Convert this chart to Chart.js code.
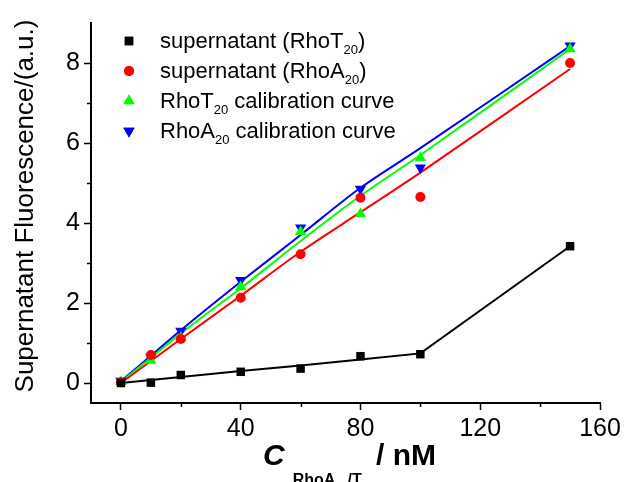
<!DOCTYPE html>
<html>
<head>
<meta charset="utf-8">
<script src="https://cdn.jsdelivr.net/npm/chart.js@4/dist/chart.umd.min.js"></script>
<style>
  body { margin: 0; background: #fff; }
  canvas { display: block; }
</style>
</head>
<body>
<canvas id="chart" width="629" height="482"></canvas>
<script>
// concentrations (nM)
const conc = [0, 10, 20, 40, 60, 80, 100, 150];

// measured points
const supT = [0.0, 0.01, 0.2, 0.28, 0.36, 0.67, 0.72, 3.42];
const supA = [0.02, 0.7, 1.1, 2.13, 3.22, 4.63, 4.65, 8.0];
const calT = [0.03, 0.57, 1.13, 2.4, 3.78, 4.23, 5.63, 8.35];
const calA = [0.05, 0.65, 1.3, 2.57, 3.88, 4.85, 5.38, 8.43];

// fitted curves
const supTFit = [0.0, 0.074, 0.148, 0.3, 0.44, 0.59, 0.74, 3.42];
const supAFit = [0.0, 0.55, 1.1, 2.18, 3.28, 4.27, 5.26, 7.85];
const calTFit = [0.03, 0.63, 1.24, 2.37, 3.55, 4.68, 5.7, 8.35];
const calAFit = [0.05, 0.68, 1.32, 2.53, 3.7, 4.88, 5.87, 8.42];

// axes
const xTicks = [0, 40, 80, 120, 160];
const xMinor = [20, 60, 100, 140];
const yTicks = [0, 2, 4, 6, 8];
const yMinor = [1, 3, 5, 7];

const FONT = 'Arial, "Liberation Sans", sans-serif';

const pts = ys => conc.map((x, i) => ({ x: x, y: ys[i] }));

function markers(label, ys, color, style, radius, rotation) {
    return {
        label: label,
        data: pts(ys),
        showLine: false,
        pointStyle: style,
        pointRadius: radius,
        pointHoverRadius: radius,
        pointRotation: rotation || 0,
        pointBackgroundColor: color,
        pointBorderColor: color,
        pointBorderWidth: 0,
        isMarker: true
    };
}

function curve(ys, color, tension) {
    return {
        data: pts(ys),
        showLine: true,
        borderColor: color,
        borderWidth: 2,
        pointRadius: 0,
        fill: false,
        tension: tension
    };
}

const datasets = [
    markers('supernatant (RhoT|20|)', supT, '#000000', 'rect', 6),
    markers('supernatant (RhoA|20|)', supA, '#ff0000', 'circle', 5),
    markers('RhoT|20| calibration curve', calT, '#00ff00', 'triangle', 6.5),
    markers('RhoA|20| calibration curve', calA, '#0000ff', 'triangle', 6.5, 180),
    curve(supTFit, '#000000', 0),
    curve(supAFit, '#ff0000', 0.3),
    curve(calTFit, '#00ff00', 0.3),
    curve(calAFit, '#0000ff', 0.3)
];

// draws a row of text pieces [text, font, dy, extra gap]
function richText(ctx, pieces, x, y, align) {
    let total = 0;
    pieces.forEach(p => {
        ctx.font = p[1];
        total += ctx.measureText(p[0]).width + (p[3] || 0);
    });
    let cx = align === 'center' ? x - total / 2 : x;
    ctx.textAlign = 'left';
    ctx.textBaseline = 'alphabetic';
    pieces.forEach(p => {
        ctx.font = p[1];
        ctx.fillText(p[0], cx, y + p[2]);
        cx += ctx.measureText(p[0]).width + (p[3] || 0);
    });
}

const extras = {
    id: 'extras',
    afterDraw(chart) {
        const ctx = chart.ctx;
        const xs = chart.scales.x, ys = chart.scales.y;
        const area = chart.chartArea;
        ctx.save();
        ctx.fillStyle = '#000';
        ctx.strokeStyle = '#000';

        // minor ticks
        ctx.lineWidth = 1.5;
        ctx.beginPath();
        xMinor.forEach(v => {
            const px = Math.round(xs.getPixelForValue(v)) + 0.5;
            ctx.moveTo(px, area.bottom);
            ctx.lineTo(px, area.bottom + 4);
        });
        yMinor.forEach(v => {
            const py = Math.round(ys.getPixelForValue(v)) + 0.5;
            ctx.moveTo(area.left, py);
            ctx.lineTo(area.left - 4, py);
        });
        ctx.stroke();

        // legend
        let row = 0;
        chart.data.datasets.forEach(ds => {
            if (!ds.isMarker) return;
            const y = 41 + row * 30;
            ctx.fillStyle = ds.pointBackgroundColor;
            ctx.beginPath();
            Chart.helpers.drawPoint(ctx, {
                pointStyle: ds.pointStyle,
                radius: ds.pointRadius,
                rotation: ds.pointRotation,
                borderWidth: 0
            }, 129, y);
            ctx.fill();
            ctx.fillStyle = '#000';
            const parts = ds.label.split('|');
            richText(ctx, [
                [parts[0], '22px ' + FONT, 0],
                [parts[1], '13px ' + FONT, 6],
                [parts[2], '22px ' + FONT, 0]
            ], 160, y + 7, 'left');
            row++;
        });

        // y title
        ctx.save();
        ctx.translate(33, 206);
        ctx.rotate(-Math.PI / 2);
        ctx.font = '26px ' + FONT;
        ctx.textAlign = 'center';
        ctx.textBaseline = 'alphabetic';
        ctx.fillText('Supernatant Fluorescence/(a.u.)', 0, 0);
        ctx.restore();

        // x title
        richText(ctx, [
            ['C', 'italic bold 30px ' + FONT, 0, 8],
            ['RhoA', 'bold 16px ' + FONT, 20],
            ['21', 'bold 11px ' + FONT, 25],
            ['/T', 'bold 16px ' + FONT, 20],
            ['20', 'bold 11px ' + FONT, 25, 2],
            ['/ nM', 'bold 30px ' + FONT, 0]
        ], (area.left + area.right) / 2 + 4, 465, 'center');
        ctx.restore();
    }
};

new Chart(document.getElementById('chart'), {
    type: 'scatter',
    data: { datasets: datasets },
    options: {
        responsive: false,
        animation: false,
        events: [],
        layout: { padding: { top: 23, right: 29, left: 0, bottom: 0 } },
        plugins: { legend: { display: false }, tooltip: { enabled: false } },
        scales: {
            x: {
                type: 'linear',
                min: -10,
                max: 160,
                afterBuildTicks: s => { s.ticks = xTicks.map(v => ({ value: v })); },
                afterFit: s => { s.height = 79; },
                grid: { drawOnChartArea: false, tickLength: 7, tickWidth: 1.5, tickColor: '#000' },
                border: { color: '#000', width: 2 },
                ticks: { color: '#000', font: { family: FONT, size: 25 }, padding: 4, maxRotation: 0 }
            },
            y: {
                type: 'linear',
                min: -0.5,
                max: 9,
                afterBuildTicks: s => { s.ticks = yTicks.map(v => ({ value: v })); },
                afterFit: s => { s.width = 91; },
                grid: { drawOnChartArea: false, tickLength: 7, tickWidth: 1.5, tickColor: '#000' },
                border: { color: '#000', width: 2 },
                ticks: { color: '#000', font: { family: FONT, size: 25 }, padding: 4 }
            }
        }
    },
    plugins: [extras]
});
</script>
</body>
</html>
